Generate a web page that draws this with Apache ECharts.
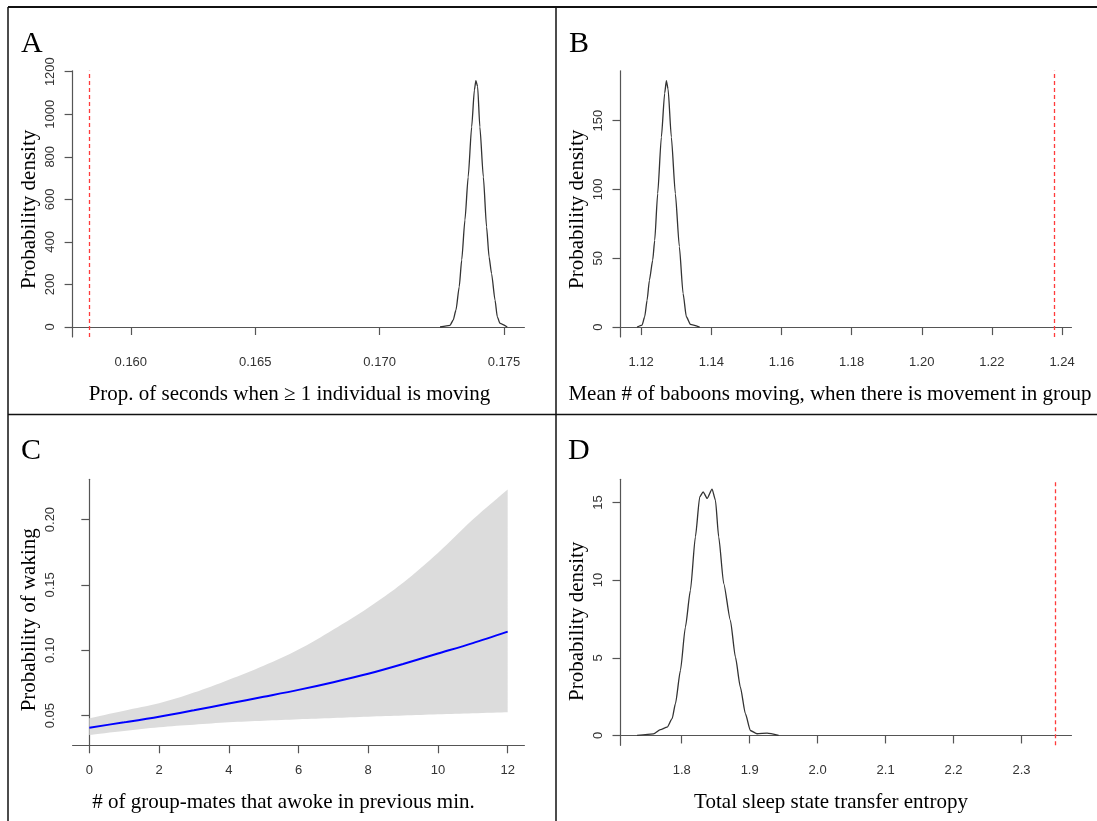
<!DOCTYPE html>
<html>
<head>
<meta charset="utf-8">
<script src="https://cdn.jsdelivr.net/npm/echarts@6/dist/echarts.min.js"></script>
<style>
html,body{margin:0;padding:0;background:#fff;}
#chart{width:1097px;height:821px;}
</style>
</head>
<body>
<div id="chart"></div>
<script>
// ---- Panel A ----
const aX = [0.17243, 0.17283, 0.17296, 0.17307, 0.17320, 0.17330, 0.17343, 0.17356, 0.17370, 0.17381, 0.17387, 0.17394, 0.17403, 0.17417, 0.17430, 0.17440, 0.17450, 0.17464, 0.17473, 0.17484, 0.17513];
const aY = [0, 8, 33, 80, 189, 315, 503, 705, 940, 1114, 1158, 1130, 940, 705, 470, 329, 251, 126, 48, 17, 0];
const aRef = 0.15834;
const aXTicks = [0.160, 0.165, 0.170, 0.175];
const aYTicks = [0, 200, 400, 600, 800, 1000, 1200];
// ---- Panel B ----
const bX = [1.11883, 1.12026, 1.12100, 1.12168, 1.12234, 1.12328, 1.12385, 1.12470, 1.12575, 1.12670, 1.12718, 1.12766, 1.12860, 1.12974, 1.13088, 1.13194, 1.13288, 1.13402, 1.13667];
const bY = [0, 1.5, 7.5, 19.5, 34, 48.6, 63, 97, 138, 170, 179, 173, 138, 97, 58.5, 24.5, 7.5, 2, 0];
const bRef = 1.2379;
const bXTicks = [1.12, 1.14, 1.16, 1.18, 1.20, 1.22, 1.24];
const bYTicks = [0, 50, 100, 150];
// ---- Panel C ----
const cX = [0, 1, 2, 3, 4, 5, 6, 7, 8, 9, 10, 11, 12];
const cFit = [0.0408, 0.0449, 0.0492, 0.0541, 0.0592, 0.0644, 0.0697, 0.0756, 0.0820, 0.0895, 0.0975, 0.1055, 0.1143];
const cUpper = [0.0480, 0.0538, 0.0595, 0.0676, 0.0774, 0.0882, 0.1005, 0.1158, 0.1325, 0.1517, 0.1745, 0.2000, 0.2230];
const cLower = [0.0352, 0.0383, 0.0411, 0.0431, 0.0449, 0.0461, 0.0472, 0.0482, 0.0492, 0.0501, 0.0510, 0.0518, 0.0526];
const cXTicks = [0, 2, 4, 6, 8, 10, 12];
const cYTicks = [0.05, 0.10, 0.15, 0.20];
// ---- Panel D ----
const dX = [1.7343, 1.7584, 1.7687, 1.7785, 1.7859, 1.7907, 1.7981, 1.8054, 1.8128, 1.8201, 1.8265, 1.8315, 1.8374, 1.8447, 1.8496, 1.8544, 1.8618, 1.8716, 1.8790, 1.8863, 1.8937, 1.9010, 1.9109, 1.9256, 1.9426];
const dY = [0, 0.1, 0.37, 0.53, 1.08, 2.04, 4.19, 6.98, 9.35, 12.78, 15.36, 15.68, 15.26, 15.86, 15.15, 12.78, 9.78, 7.41, 5.05, 3.11, 1.40, 0.32, 0.11, 0.15, 0];
const dRef = 2.349;
const dXTicks = [1.8, 1.9, 2.0, 2.1, 2.2, 2.3];
const dYTicks = [0, 5, 10, 15];

const panelLetters = ['A', 'B', 'C', 'D'];
const xTitles = ['Prop. of seconds when \u2265 1 individual is moving',
  'Mean # of baboons moving, when there is movement in group',
  '# of group-mates that awoke in previous min.',
  'Total sleep state transfer entropy'];
const yTitles = ['Probability density', 'Probability density', 'Probability of waking', 'Probability density'];

const zip = (xs, ys) => xs.map((x, i) => [x, ys[i]]);

const SANS = '"Liberation Sans", Arial, sans-serif';
const SERIF = '"Liberation Serif", "Times New Roman", serif';
const AXIS_COLOR = '#555';
const TITLE_SIZE = 21;

function xAxis(idx, min, max, ticks, dec, title, shift) {
  return {
    type: 'value', gridIndex: idx, min: min, max: max,
    splitLine: { show: false },
    axisLine: { show: true, lineStyle: { color: AXIS_COLOR, width: 1.2 } },
    axisTick: { show: true, inside: false, length: 8, customValues: ticks, lineStyle: { color: AXIS_COLOR, width: 1.2 } },
    axisLabel: { show: true, customValues: ticks, margin: 19, fontFamily: SANS, fontSize: 13, color: '#333',
      formatter: v => Number(v).toFixed(dec) },
    name: title, nameLocation: 'middle', nameGap: 47,
    nameTextStyle: { fontFamily: SERIF, fontSize: TITLE_SIZE, color: '#000', padding: [0, shift, 0, 0] }
  };
}
function yAxis(idx, min, max, ticks, dec, title, shift) {
  return {
    type: 'value', gridIndex: idx, min: min, max: max,
    splitLine: { show: false },
    axisLine: { show: true, lineStyle: { color: AXIS_COLOR, width: 1.2 } },
    axisTick: { show: true, inside: false, length: 8, customValues: ticks, lineStyle: { color: AXIS_COLOR, width: 1.2 } },
    axisLabel: { show: true, customValues: ticks, rotate: 90, margin: 16, fontFamily: SANS, fontSize: 13, color: '#333',
      formatter: v => Number(v).toFixed(dec) },
    name: title, nameLocation: 'middle', nameRotate: 90, nameGap: 33,
    nameTextStyle: { fontFamily: SERIF, fontSize: TITLE_SIZE, color: '#000', padding: [0, shift, 0, 0] }
  };
}

const refLine = (v) => ({
  silent: true, symbol: ['none', 'none'], animation: false, precision: 8,
  label: { show: false },
  lineStyle: { color: '#ff3b3b', type: [4, 3], width: 1.3 },
  data: [{ xAxis: v }]
});

const densityStyle = { color: '#333', width: 1.3 };

// Catmull-Rom smoothing of an edge in pixel space (rendering only)
function smoothEdge(pts, steps) {
  const out = [];
  const n = pts.length;
  for (let i = 0; i < n - 1; i++) {
    const p0 = pts[Math.max(i - 1, 0)], p1 = pts[i], p2 = pts[i + 1], p3 = pts[Math.min(i + 2, n - 1)];
    for (let s = 0; s < steps; s++) {
      const t = s / steps, t2 = t * t, t3 = t2 * t;
      out.push([0, 1].map(k => 0.5 * ((2 * p1[k]) + (-p0[k] + p2[k]) * t +
        (2 * p0[k] - 5 * p1[k] + 4 * p2[k] - p3[k]) * t2 + (-p0[k] + 3 * p1[k] - 3 * p2[k] + p3[k]) * t3)));
    }
  }
  out.push(pts[n - 1]);
  return out;
}

const option = {
  animation: false,
  backgroundColor: '#fff',
  grid: [
    { left: 72.6, top: 70.8, width: 451.8, height: 266.2 },
    { left: 620.5, top: 70.8, width: 451, height: 266.2 },
    { left: 72.6, top: 479.3, width: 451.8, height: 266 },
    { left: 620.5, top: 479.3, width: 451, height: 266 }
  ],
  xAxis: [
    xAxis(0, 0.15766, 0.17582, aXTicks, 3, xTitles[0], 18),
    xAxis(1, 1.1141, 1.2427, bXTicks, 2, xTitles[1], 32),
    xAxis(2, -0.48, 12.48, cXTicks, 0, xTitles[2], 30),
    xAxis(3, 1.7099, 2.3736, dXTicks, 1, xTitles[3], 30)
  ],
  yAxis: [
    yAxis(0, -47, 1204, aYTicks, 0, yTitles[0], 11),
    yAxis(1, -7.2, 186.2, bYTicks, 0, yTitles[1], 11),
    yAxis(2, 0.0273, 0.2308, cYTicks, 2, yTitles[2], 15),
    yAxis(3, -0.634, 16.49, dYTicks, 0, yTitles[3], 18)
  ],
  series: [
    { type: 'line', xAxisIndex: 0, yAxisIndex: 0, data: zip(aX, aY), showSymbol: false, symbol: 'none',
      smooth: 0.2, smoothMonotone: 'x', lineStyle: densityStyle, markLine: refLine(aRef) },
    { type: 'line', xAxisIndex: 1, yAxisIndex: 1, data: zip(bX, bY), showSymbol: false, symbol: 'none',
      smooth: 0.2, smoothMonotone: 'x', lineStyle: densityStyle, markLine: refLine(bRef) },
    { type: 'custom', xAxisIndex: 2, yAxisIndex: 2, silent: true,
      data: cX.map((x, i) => [x, cLower[i], cUpper[i]]),
      encode: { x: 0, y: [1, 2] },
      renderItem: function (params, api) {
        if (params.dataIndex !== 0) return null;
        const up = cX.map((x, i) => api.coord([x, cUpper[i]]));
        const lo = cX.map((x, i) => api.coord([x, cLower[i]]));
        const pts = smoothEdge(up, 8).concat(smoothEdge(lo, 8).reverse());
        return { type: 'polygon', shape: { points: pts }, style: { fill: '#dcdcdc', stroke: null } };
      } },
    { type: 'line', xAxisIndex: 2, yAxisIndex: 2, data: zip(cX, cFit), showSymbol: false, symbol: 'none',
      smooth: 0.3, lineStyle: { color: '#0000ff', width: 2 }, z: 3 },
    { type: 'line', xAxisIndex: 3, yAxisIndex: 3, data: zip(dX, dY), showSymbol: false, symbol: 'none',
      smooth: 0.2, smoothMonotone: 'x', lineStyle: densityStyle, markLine: refLine(dRef) }
  ],
  graphic: [
    // panel borders
    { type: 'line', shape: { x1: 8, y1: 7, x2: 1097, y2: 7 }, style: { stroke: '#111', lineWidth: 2 } },
    { type: 'line', shape: { x1: 8, y1: 7, x2: 8, y2: 821 }, style: { stroke: '#111', lineWidth: 1.5 } },
    { type: 'line', shape: { x1: 556, y1: 7, x2: 556, y2: 821 }, style: { stroke: '#111', lineWidth: 1.5 } },
    { type: 'line', shape: { x1: 8, y1: 414.5, x2: 1097, y2: 414.5 }, style: { stroke: '#111', lineWidth: 1.5 } },
    // panel letters
    { type: 'text', x: 21, y: 29, style: { text: panelLetters[0], font: '30px ' + SERIF, fill: '#000', textVerticalAlign: 'top' } },
    { type: 'text', x: 569, y: 29, style: { text: panelLetters[1], font: '30px ' + SERIF, fill: '#000', textVerticalAlign: 'top' } },
    { type: 'text', x: 21, y: 436, style: { text: panelLetters[2], font: '30px ' + SERIF, fill: '#000', textVerticalAlign: 'top' } },
    { type: 'text', x: 568, y: 436, style: { text: panelLetters[3], font: '30px ' + SERIF, fill: '#000', textVerticalAlign: 'top' } }
  ]
};

const chart = echarts.init(document.getElementById('chart'), null, { renderer: 'canvas' });
chart.setOption(option);
</script>
</body>
</html>
